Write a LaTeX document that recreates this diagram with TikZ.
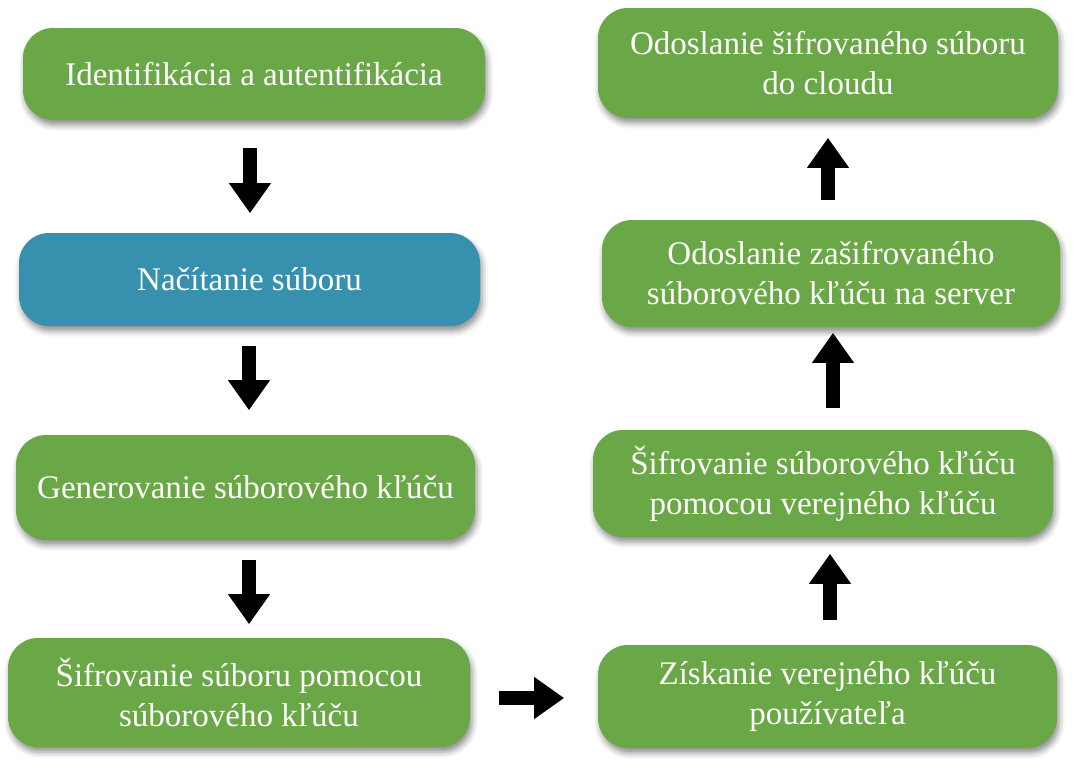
\documentclass[tikz,border=0pt]{standalone}
\usepackage{fontspec}
\setmainfont{Liberation Serif}
\usetikzlibrary{arrows.meta,calc,shadows.blur}
\definecolor{boxgreen}{HTML}{6AA746}
\definecolor{boxblue}{HTML}{3790AD}
\tikzset{
  stepbox/.style={rounded corners=30pt, fill=boxgreen, draw=none, text=white,
    align=center, inner sep=0pt,
    font=\fontsize{33}{40}\selectfont,
    blur shadow={shadow xshift=2pt, shadow yshift=-5pt, shadow blur radius=6pt, shadow opacity=45}},
  bluebox/.style={stepbox, fill=boxblue},
  blockarrow/.style={line width=14pt, -{Triangle[width=40pt,length=30pt]}, black}
}
\begin{document}
\begin{tikzpicture}[x=1pt,y=-1pt]
\useasboundingbox (0,0) rectangle (1074,774);
% left column
\node[stepbox, minimum width=462pt, minimum height=92pt] (b1) at (254,74) {Identifikácia a autentifikácia};
\node[bluebox, minimum width=461pt, minimum height=93pt] (b2) at (249.5,279.5) {Načítanie súboru};
\node[stepbox, minimum width=459pt, minimum height=105pt] (b3) at (245.5,487.5) {Generovanie súborového kľúču};
\node[stepbox, minimum width=462pt, minimum height=109pt] (b4) at (239,692.5) {Šifrovanie súboru pomocou\\súborového kľúču};
% right column
\node[stepbox, minimum width=459pt, minimum height=103pt] (r4) at (827.5,696.5) {Získanie verejného kľúču\\používateľa};
\node[stepbox, minimum width=460pt, minimum height=107pt] (r3) at (823,483.5) {Šifrovanie súborového kľúču\\pomocou verejného kľúču};
\node[stepbox, minimum width=458pt, minimum height=107pt] (r2) at (831,273.5) {Odoslanie zašifrovaného\\súborového kľúču na server};
\node[stepbox, minimum width=460pt, minimum height=110pt] (r1) at (828,63) {Odoslanie šifrovaného súboru\\do cloudu};
% arrows
\draw[blockarrow] ($(b1.south)+(-4,28)$) -- ($(b1.south)+(-4,93)$);
\draw[blockarrow] ($(b2.south)+(-0.5,20)$) -- ($(b2.south)+(-0.5,84)$);
\draw[blockarrow] ($(b3.south)+(3.5,20)$) -- ($(b3.south)+(3.5,84)$);
\draw[blockarrow] ($(b4.east)+(29,5.5)$) -- ($(b4.east)+(94,5.5)$);
\draw[blockarrow] ($(r4.north)+(2.5,-25)$) -- ($(r4.north)+(2.5,-91)$);
\draw[blockarrow] ($(r3.north)+(10,-22)$) -- ($(r3.north)+(10,-97)$);
\draw[blockarrow] ($(r2.north)+(-3,-20)$) -- ($(r2.north)+(-3,-82)$);
\end{tikzpicture}
\end{document}
